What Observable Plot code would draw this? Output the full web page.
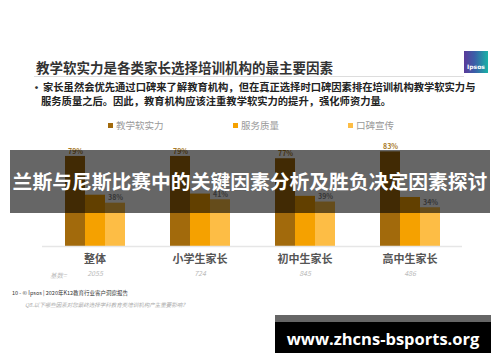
<!DOCTYPE html>
<html><head><meta charset="utf-8">
<script src="https://cdn.jsdelivr.net/npm/d3@7"></script>
<script src="https://cdn.jsdelivr.net/npm/@observablehq/plot@0.6"></script>
<style>
html,body{margin:0;padding:0;background:#fff;}
body{width:500px;height:362px;position:relative;overflow:hidden;font-family:"Noto Sans CJK SC","Noto Sans",sans-serif;}
.abs{position:absolute;white-space:nowrap;}
#chart{position:absolute;left:0;top:130px;}
</style></head><body>
<script>
const categories = ["整体","小学生家长","初中生家长","高中生家长"];
const series = ["教学软实力","服务质量","口碑宣传"];
const teaching = [79,79,77,83];
const service = [45,46,44,43];
const wordOfMouth = [38,41,39,34];
const bases = ["2055","724","845","486"];
const colors = ["#a26a0c","#f5a100","#fdbd45"];
const labelColors = ["#a87a2a","#8a8a8a","#8a8a8a"];
const title = "教学软实力是各类家长选择培训机构的最主要因素";
const bullet1 = "家长虽然会优先通过口碑来了解教育机构，但在真正选择时口碑因素排在培训机构教学软实力与";
const bullet2 = "服务质量之后。因此，教育机构应该注重教学软实力的提升，强化师资力量。";
const bandText = "兰斯与尼斯比赛中的关键因素分析及胜负决定因素探讨";
const footer = "10 -  © Ipsos | 2020年K12教育行业客户洞察报告";
const note = "Q8.以下哪些因素对您最终选择学科教育类培训机构产生重要影响？";
const watermark = "www.zhcns-bsports.org";

const rows = [];
categories.forEach((c,i)=>{
  [teaching,service,wordOfMouth].forEach((arr,j)=>{
    rows.push({cat:c, s:series[j], v:arr[i], j});
  });
});
// labels of the middle series sit beneath the overlay title in the reference
const labelRows = rows.filter(d => d.j !== 1);
const baseRows = categories.map((c,i)=>({cat:c, b:bases[i]}));

const chart = Plot.plot({
  width:500, height:160,
  marginLeft:42, marginRight:38, marginTop:2, marginBottom:44,
  style:{fontFamily:'"Noto Sans CJK SC",sans-serif', background:"transparent"},
  fx:{domain:categories, padding:0, label:null, axis:null},
  x:{domain:series, paddingInner:0, paddingOuter:1.06, axis:null},
  y:{domain:[0,100], axis:null},
  color:{domain:series, range:colors},
  marks:[
    Plot.barY(rows,{fx:"cat", x:"s", y:"v", fill:"s"}),
    Plot.ruleY([0],{stroke:"#e6e6e6", strokeWidth:1.5}),
    Plot.text(labelRows,{fx:"cat", x:"s", y:"v", text:d=>d.v+"%", dy:-5, fontSize:7, fontWeight:"bold", fill:d=>labelColors[d.j]}),
    Plot.text(baseRows,{fx:"cat", frameAnchor:"bottom", text:"cat", dy:16, fontSize:11, fontWeight:"bold", fill:"#555"}),
    Plot.text(baseRows,{fx:"cat", frameAnchor:"bottom", text:"b", dy:29, fontSize:7, fontStyle:"italic", fill:"#bbb"})
  ]
});
chart.id = "chart";
document.body.appendChild(chart);

function add(text, css){
  const d = document.createElement("div");
  d.className = "abs";
  d.textContent = text;
  d.style.cssText += css;
  document.body.appendChild(d);
  return d;
}
add(title, "left:36px;top:58px;font-size:13.5px;font-weight:bold;color:#333;line-height:18px;");
add("", "left:34px;top:76px;width:430px;height:1px;background:#ddd;");
add("Ipsos", "left:464px;top:51px;width:24px;height:22px;background:linear-gradient(90deg,#5b3a9a 0%,#3a5fa8 45%,#19b2a6 100%);color:#fff;font-size:6px;font-weight:bold;text-align:center;line-height:32px;font-family:'DejaVu Sans',sans-serif;");
add("·", "left:31px;top:80px;font-size:11px;font-weight:bold;color:#333;line-height:14px;");
add(bullet1, "left:43px;top:80px;font-size:10.3px;font-weight:bold;color:#222;line-height:14px;");
add(bullet2, "left:41px;top:94px;font-size:10.3px;font-weight:bold;color:#222;line-height:14px;");
const legX = [108,233,348];
series.forEach((s,i)=>{
  add("", `left:${legX[i]}px;top:123px;width:5px;height:5px;background:${colors[i]};`);
  add(s, `left:${legX[i]+8}px;top:119px;font-size:9.5px;color:#999;line-height:13px;`);
});
add("基数=", "left:50px;top:270px;font-size:6.5px;font-style:italic;color:#bbb;line-height:10px;");
add(footer, "left:12px;top:290px;font-size:5.5px;color:#333;line-height:7px;");
add(note, "left:25px;top:302px;font-size:5.5px;font-style:italic;color:#aaa;line-height:7px;");
add("", "left:10px;top:150px;width:480px;height:63px;background:rgba(0,0,0,0.6);");
add(bandText, "left:10px;top:170px;width:480px;text-align:center;font-size:19.8px;font-weight:bold;color:#fff;line-height:22px;");
add("", "left:275px;top:315px;width:216px;height:38px;background:#000;");
add("", "left:275px;top:315px;width:216px;height:7px;background:#666;");
add(watermark, "left:275px;top:326px;width:216px;text-align:center;font-size:16.5px;font-weight:bold;color:#fff;line-height:26px;font-family:'Open Sans','DejaVu Sans',sans-serif;");
</script>
</body></html>
